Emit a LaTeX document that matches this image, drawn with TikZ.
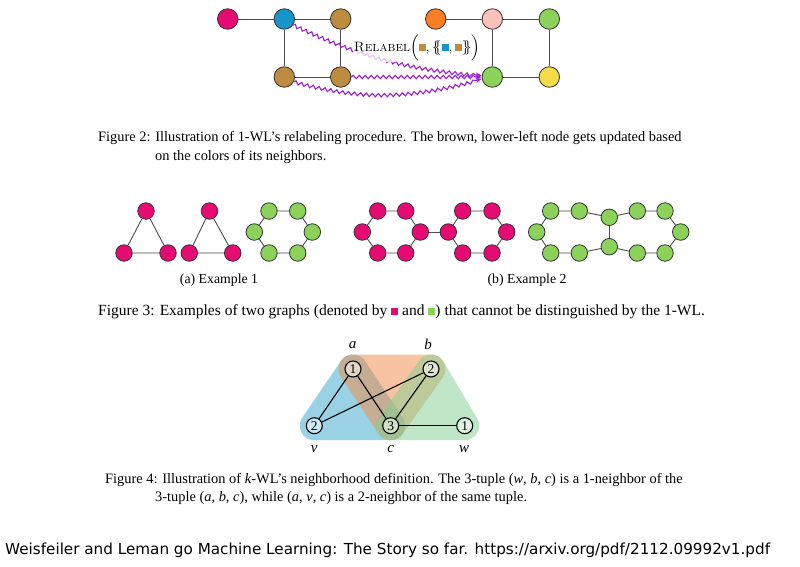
\documentclass[tikz,border=0pt]{standalone}
\usepackage{fontspec}
\usepackage{amsmath}
\usetikzlibrary{decorations.pathmorphing,arrows.meta}
\newfontfamily\capfont{Liberation Serif}
\newfontfamily\credfont{DejaVu Sans}
\definecolor{cmag}{RGB}{230,10,115}
\definecolor{cblue}{RGB}{22,150,200}
\definecolor{cbrown}{RGB}{190,140,62}
\definecolor{corange}{RGB}{250,125,40}
\definecolor{cpink}{RGB}{250,192,186}
\definecolor{cgreen}{RGB}{140,210,90}
\definecolor{cyellow}{RGB}{245,220,70}
\definecolor{cpurp}{RGB}{155,30,215}
\definecolor{rblue}{RGB}{53,167,205}
\definecolor{rorange}{RGB}{241,137,69}
\definecolor{rgreen}{RGB}{129,209,145}
\newcommand{\sq}[1]{\raisebox{0.3pt}{\textcolor{#1}{\rule{7pt}{7pt}}}}
\newcommand{\vi}[1]{\textit{#1}}
\begin{document}
\begin{tikzpicture}[x=1pt,y=1pt,
  gn/.style={circle, draw=black!80, line width=0.8pt, minimum size=20.5pt, inner sep=0pt},
  sn/.style={circle, draw=black!80, line width=0.8pt, minimum size=16.5pt, inner sep=0pt},
  ed/.style={draw=black!70, line width=0.9pt},
  wavy/.style={draw=cpurp, line width=1.1pt, decorate,
     decoration={snake, amplitude=1.7pt, segment length=6pt, post length=6pt},
     -{Stealth[length=6pt,width=5pt]}},
  kn/.style={circle, draw=black, line width=1.1pt, minimum size=16pt, inner sep=0pt,
     fill=white, fill opacity=0.5, text opacity=1, font=\capfont\fontsize{13.5}{14}\selectfont},
  region/.style={line width=29pt, line join=round},
  captext/.style={anchor=base west, inner sep=0pt, font=\capfont\fontsize{14.4}{16}\selectfont},
  lbl/.style={inner sep=0pt, font=\capfont\itshape\fontsize{15}{16}\selectfont}
]
\useasboundingbox (0,0) rectangle (800,-566);
\fill[white] (0,0) rectangle (800,-566);

% ---------------- Figure 2 ----------------
\node[gn, fill=cmag]   (m1) at (227.7,-19) {};
\node[gn, fill=cblue]  (b1) at (284.3,-19) {};
\node[gn, fill=cbrown] (t1) at (340.7,-19) {};
\node[gn, fill=cbrown] (bl) at (284.3,-77) {};
\node[gn, fill=cbrown] (br) at (340.7,-77) {};
\node[gn, fill=corange](o2) at (435.7,-19) {};
\node[gn, fill=cpink]  (p2) at (492.3,-19) {};
\node[gn, fill=cgreen] (g2) at (549.3,-19) {};
\node[gn, fill=cgreen] (gb) at (492.3,-77) {};
\node[gn, fill=cyellow](y2) at (549.3,-77) {};
\draw[ed] (m1) -- (b1); \draw[ed] (b1) -- (t1); \draw[ed] (b1) -- (bl);
\draw[ed] (t1) -- (br); \draw[ed] (bl) -- (br);
\draw[ed] (o2) -- (p2); \draw[ed] (p2) -- (g2); \draw[ed] (p2) -- (gb);
\draw[ed] (g2) -- (y2); \draw[ed] (gb) -- (y2);

\draw[wavy] (b1.-35) to[out=-25, in=175] (gb.172);
\draw[wavy] (br.east) -- (gb.west);
\draw[wavy] (bl.-28) to[out=-15, in=195] (gb.190);
\node[fill=white, fill opacity=0.75, text opacity=1, inner sep=1pt, font=\fontsize{13.6}{15}\selectfont]
  (rl) at (417,-48) {\textsc{Relabel}$\Bigl(\text{\sq{cbrown}}, \{\!\!\{\text{\sq{cblue}}, \text{\sq{cbrown}}\}\!\!\}\Bigr)$};

\node[captext] (c2a) at (98,-141.5) {Figure 2: Illustration of 1-WL’s relabeling procedure. The brown, lower-left node gets updated based};
\node[captext] (c2b) at (155,-160.5) {on the colors of its neighbors.};

% ---------------- Figure 3 ----------------
\node[sn, fill=cmag] (ta1) at (146,-211) {};
\node[sn, fill=cmag] (ta2) at (124,-253) {};
\node[sn, fill=cmag] (ta3) at (168,-253) {};
\node[sn, fill=cmag] (tb1) at (209.5,-211) {};
\node[sn, fill=cmag] (tb2) at (189.3,-253) {};
\node[sn, fill=cmag] (tb3) at (232.7,-253) {};
\draw[ed] (ta1) -- (ta2) -- (ta3) -- (ta1);
\draw[ed] (tb1) -- (tb2) -- (tb3) -- (tb1);
\foreach \n/\x/\y in {ha1/269/211, ha2/297.7/211, ha3/312.3/232, ha4/297.7/253, ha5/269/253, ha6/254.3/232}
  \node[sn, fill=cgreen] (\n) at (\x,-\y) {};
\draw[ed] (ha1) -- (ha2) -- (ha3) -- (ha4) -- (ha5) -- (ha6) -- (ha1);
\node[anchor=base, inner sep=0pt, font=\capfont\fontsize{13.8}{15}\selectfont] (la) at (219,-283.5) {(a) Example 1};
\foreach \n/\x/\y in {pa1/377.7/211, pa2/405.7/211, pa3/420.3/232, pa4/405.7/253, pa5/377.7/253, pa6/362.3/232,
                      pb1/462.7/211, pb2/492/211, pb3/506.7/232, pb4/492/253, pb5/462.7/253, pb6/448.3/232}
  \node[sn, fill=cmag] (\n) at (\x,-\y) {};
\draw[ed] (pa1) -- (pa2) -- (pa3) -- (pa4) -- (pa5) -- (pa6) -- (pa1);
\draw[ed] (pb1) -- (pb2) -- (pb3) -- (pb4) -- (pb5) -- (pb6) -- (pb1);
\draw[ed] (pa3) -- (pb6);
\foreach \n/\x/\y in {q1/550.7/211, q2/579.3/211, q3/609.3/217.3, q4/637.3/211, q5/665/211, q6/680.7/232,
                      q7/665/253, q8/637.3/253, q9/609.3/246.7, q10/579.3/253, q11/550.7/253, q12/536.7/232}
  \node[sn, fill=cgreen] (\n) at (\x,-\y) {};
\draw[ed] (q1) -- (q2) -- (q3) -- (q4) -- (q5) -- (q6) -- (q7) -- (q8) -- (q9) -- (q10) -- (q11) -- (q12) -- (q1);
\draw[ed] (q3) -- (q9);
\node[anchor=base, inner sep=0pt, font=\capfont\fontsize{13.8}{15}\selectfont] (lb) at (527,-283.5) {(b) Example 2};

\node[captext, font=\capfont\fontsize{15.5}{17}\selectfont] (c3) at (98,-315) {Figure 3: Examples of two graphs (denoted by \sq{cmag} and \sq{cgreen}) that cannot be distinguished by the 1-WL.};

% ---------------- Figure 4 ----------------
\coordinate (pa) at (353,-369);
\coordinate (pb) at (431,-369);
\coordinate (pv) at (314.3,-425.7);
\coordinate (pc) at (390.7,-425.7);
\coordinate (pw) at (464.7,-425.7);
\begin{scope}[transparency group, opacity=0.5]
  \filldraw[draw=rblue, fill=rblue, region] (pa) -- (pv) -- (pc) -- cycle;
\end{scope}
\begin{scope}[transparency group, opacity=0.5]
  \filldraw[draw=rorange, fill=rorange, region] (pa) -- (pb) -- (pc) -- cycle;
\end{scope}
\begin{scope}[transparency group, opacity=0.5]
  \filldraw[draw=rgreen, fill=rgreen, region] (pb) -- (pc) -- (pw) -- cycle;
\end{scope}
\node[kn] (na) at (pa) {1};
\node[kn] (nb) at (pb) {2};
\node[kn] (nv) at (pv) {2};
\node[kn] (nc) at (pc) {3};
\node[kn] (nw) at (pw) {1};
\draw[line width=1.1pt] (na) -- (nv);
\draw[line width=1.1pt] (na) -- (nc);
\draw[line width=1.1pt] (nb) -- (nv);
\draw[line width=1.1pt] (nb) -- (nc);
\draw[line width=1.1pt] (nc) -- (nw);
\node[lbl] (la4) at (352.7,-345) {a};
\node[lbl] (lb4) at (428,-344) {b};
\node[lbl] (lv4) at (314.3,-449) {v};
\node[lbl] (lc4) at (390.7,-449) {c};
\node[lbl] (lw4) at (464,-449) {w};

\node[captext] (c4a) at (105,-483.5) {Figure 4: Illustration of \vi{k}-WL’s neighborhood definition. The 3-tuple (\vi{w}, \vi{b}, \vi{c}) is a 1-neighbor of the};
\node[captext] (c4b) at (155,-501.5) {3-tuple (\vi{a}, \vi{b}, \vi{c}), while (\vi{a}, \vi{v}, \vi{c}) is a 2-neighbor of the same tuple.};

% ---------------- credit ----------------
\node[anchor=base west, inner sep=0pt, font=\credfont\fontsize{15.2}{17}\selectfont] (cred) at (5,-554.5)
  {Weisfeiler and Leman go Machine Learning: The Story so far. https://arxiv.org/pdf/2112.09992v1.pdf};
\end{tikzpicture}
\end{document}
